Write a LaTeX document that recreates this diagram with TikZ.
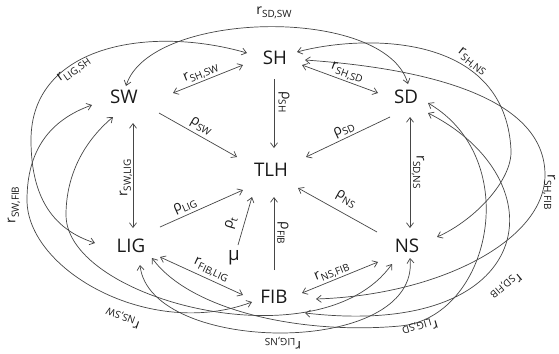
\documentclass[tikz,border=0pt]{standalone}
\usepackage{fontspec}
\setmainfont{Open Sans}
\usepackage{tikz}
\usetikzlibrary{arrows.meta,calc}
\definecolor{tlhline}{RGB}{70,70,70}
\definecolor{tlhtext}{RGB}{25,25,25}
\newcommand{\rrate}[1]{r\raisebox{-0.45ex}{\fontsize{8.5}{9}\selectfont #1}}
\newcommand{\prate}[1]{ρ\raisebox{-0.45ex}{\fontsize{8.5}{9}\selectfont #1}}

\begin{document}
\begin{tikzpicture}[x=0.03cm, y=-0.03cm,
  every node/.style={text=tlhtext},
  comp/.style={font=\fontsize{16}{18}\selectfont, inner sep=0pt},
  lab/.style={font=\fontsize{12}{14}\selectfont, inner sep=0pt},
  link/.style={draw=tlhline, line width=0.6pt},
  >={Straight Barb[length=4pt,width=6pt]}]
\useasboundingbox (0,0) rectangle (559,353);

% compartments
\node[comp] (SH)  at (275,58)  {SH};
\node[comp] (SW)  at (124,97)  {SW};
\node[comp] (SD)  at (406,97)  {SD};
\node[comp] (TLH) at (271,170) {TLH};
\node[comp] (LIG) at (131,246) {LIG};
\node[comp] (NS)  at (407,246) {NS};
\node[comp] (FIB) at (274,297) {FIB};
\node[comp] (mu)  at (234,258) {μ};

% flows into TLH
\draw[link,->] ($(SH)+(-1,21)$) -- ($(TLH)+(3,-22)$);
\draw[link,->] ($(SW)+(35,16)$) -- ($(TLH)+(-34,-13)$);
\draw[link,->] ($(SD)+(-16,20)$) -- ($(TLH)+(35,-13)$);
\draw[link,->] ($(LIG)+(29,-19)$) -- ($(TLH)+(-28,20)$);
\draw[link,->] ($(NS)+(-30,-14)$) -- ($(TLH)+(27,18)$);
\draw[link,->] ($(FIB)+(0,-27)$) -- ($(TLH)+(3,27)$);
\draw[link,->] ($(mu)+(4,-13)$) -- ($(TLH)+(-19,27)$);

% exchanges between neighbours
\draw[link,<->] ($(SW)+(49,-4)$) -- ($(SH)+(-32,7)$);
\draw[link,<->] ($(SH)+(27,7)$) -- ($(SD)+(-28,-4)$);
\draw[link,<->] ($(SW)+(9,26)$) -- ($(LIG)+(2,-18)$);
\draw[link,<->] ($(SD)+(4,20)$) -- ($(NS)+(3,-18)$);
\draw[link,<->] ($(LIG)+(29,11)$) -- ($(FIB)+(-31,-2)$);
\draw[link,<->] ($(FIB)+(28,-4)$) -- ($(NS)+(-29,16)$);

% long exchanges
\draw[link,<->] ($(SW)+(2,-11)$) .. controls (150,10) and (385,5) .. ($(SD)+(2,-13)$);
\draw[link,<->] ($(SH)+(-28,-5)$) .. controls (150,25) and (31,45) .. (31,140)
  .. controls (31,200) and (55,230) .. ($(LIG)+(-36,-3)$);
\draw[link,<->] ($(SH)+(22,-6)$) .. controls (360,35) and (505,30) .. (511,150)
  .. controls (512.5,180) and (475,220) .. ($(NS)+(30,-9)$);
\draw[link,<->] ($(SH)+(30,2)$) .. controls (420,68) and (545,95) .. (545,175)
  .. controls (545,240) and (440,295) .. ($(FIB)+(42,2)$);
\draw[link,<->] ($(SD)+(22,16)$) .. controls (560,180) and (540,340) .. ($(FIB)+(31,16)$);
\draw[link,<->] ($(LIG)+(21,12)$) .. controls (190,310) and (300,335) .. (400,326)
  .. controls (490,318) and (525,160) .. ($(SD)+(22,6)$);
\draw[link,<->] ($(LIG)+(9,19)$) .. controls (150,355) and (420,358) .. ($(NS)+(3,12)$);
\draw[link,<->] ($(SW)+(-11,20)$) .. controls (80,145) and (66,180) .. (66,215)
  .. controls (66,300) and (320,365) .. ($(NS)+(-15,18)$);
\draw[link,<->] ($(SW)+(-32,8)$) .. controls (50,120) and (27,150) .. (27,200)
  .. controls (27,270) and (150,340) .. ($(FIB)+(-22,5)$);

% rates
\node[lab] (lSDSW) at (274,13) {\rrate{SD,SW}};
\node[lab, rotate=35] (lLIGSH) at (74,70) {\rrate{LIG,SH}};
\node[lab, rotate=22] (lSHSW) at (201,73) {\rrate{SH,SW}};
\node[lab, rotate=-20] (lSHSD) at (347,73) {\rrate{SH,SD}};
\node[lab, rotate=-38] (lSHNS) at (472,62) {\rrate{SH,NS}};
\node[lab, rotate=-90] (pSH) at (284,102) {\prate{SH}};
\node[lab, rotate=-30] (pSW) at (201,126) {\prate{SW}};
\node[lab, rotate=25] (pSD) at (344,130) {\prate{SD}};
\node[lab, rotate=90] (lSWLIG) at (126,178) {\rrate{SW,LIG}};
\node[lab, rotate=-90] (lSDNS) at (418,172) {\rrate{SD,NS}};
\node[lab, rotate=-90] (lSHFIB) at (549,192) {\rrate{SH,FIB}};
\node[lab, rotate=90] (lSWFIB) at (14,205) {\rrate{SW,FIB}};
\node[lab, rotate=24] (pLIG) at (185,206) {\prate{LIG}};
\node[lab, rotate=74] (pt) at (231,223) {\prate{t}};
\node[lab, rotate=-90] (pFIB) at (283,233) {\prate{FIB}};
\node[lab, rotate=-29] (pNS) at (346,199) {\prate{NS}};
\node[lab, rotate=-25] (lFIBLIG) at (211,270) {\rrate{FIB,LIG}};
\node[lab, rotate=22] (lNSFIB) at (332,272) {\rrate{NS,FIB}};
\node[lab, rotate=220] (lSDFIB) at (506,286) {\rrate{SD,FIB}};
\node[lab, rotate=196] (lLIGSD) at (420,327) {\rrate{LIG,SD}};
\node[lab, rotate=180] (lLIGNS) at (283,343) {\rrate{LIG,NS}};
\node[lab, rotate=160] (lNSSW) at (123,318) {\rrate{NS,SW}};
\end{tikzpicture}
\end{document}
